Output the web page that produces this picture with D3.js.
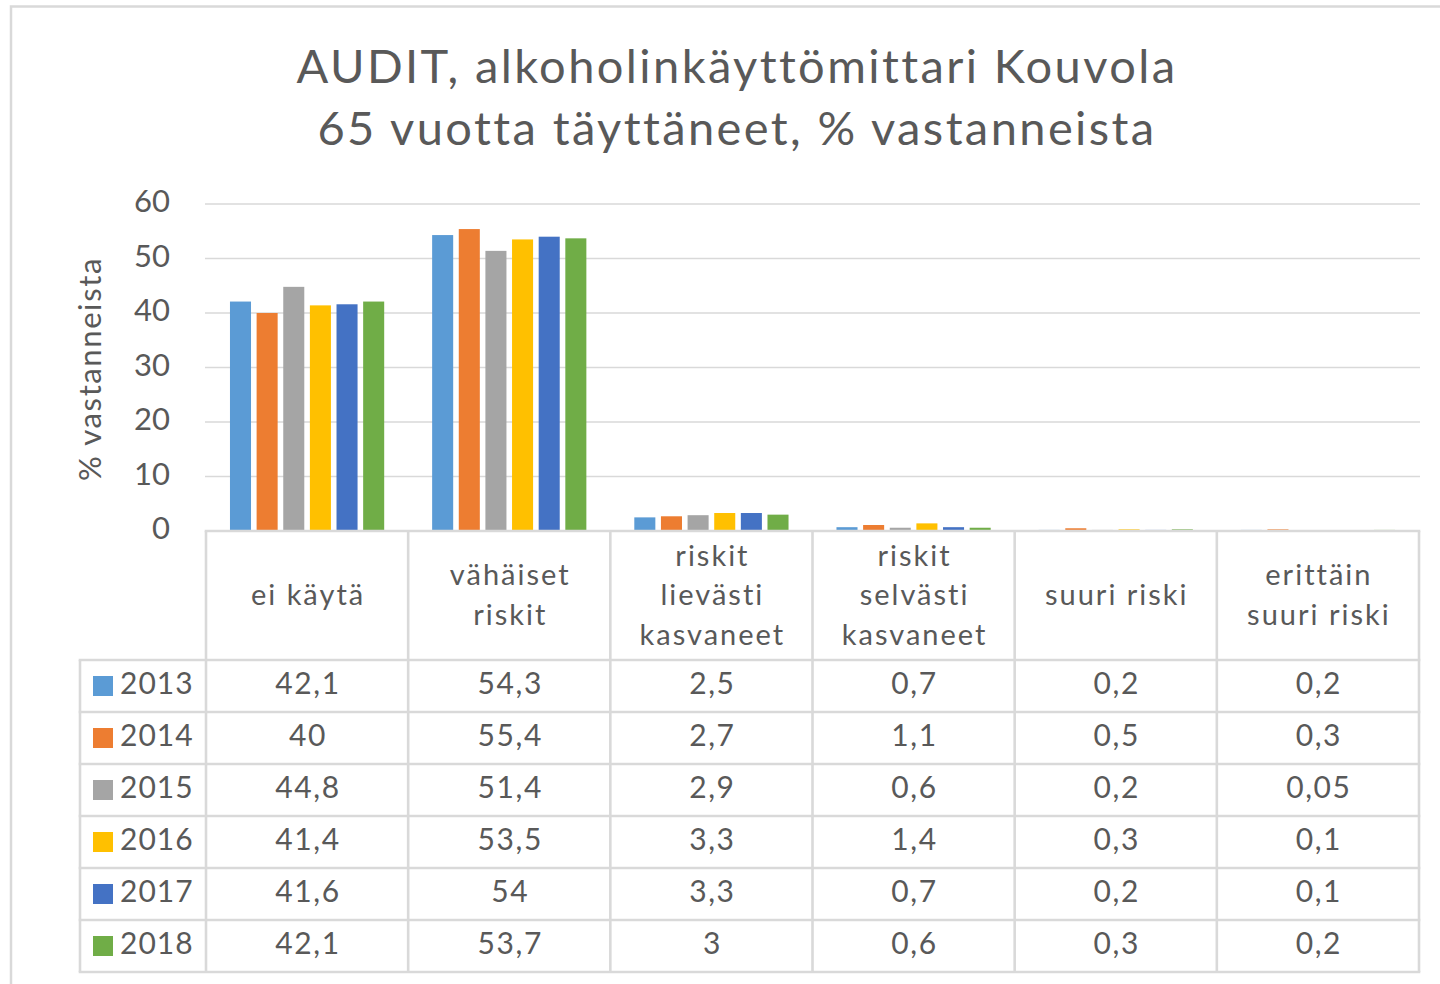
<!DOCTYPE html>
<html>
<head>
<meta charset="utf-8">
<script src="https://cdn.jsdelivr.net/npm/d3@7"></script>
<style>
  html, body { margin: 0; padding: 0; background: #fff; }
  svg { display: block; }
  text { font-family: Lato, "Open Sans", sans-serif; fill: #595959; }
</style>
</head>
<body>
<svg id="chart" width="1440" height="984"></svg>
<script>
const titleLines = ["AUDIT, alkoholinkäyttömittari Kouvola", "65 vuotta täyttäneet, % vastanneista"];
const yAxisTitle = "% vastanneista";
const categories = ["ei käytä", "vähäiset\nriskit", "riskit\nlievästi\nkasvaneet", "riskit\nselvästi\nkasvaneet", "suuri riski", "erittäin\nsuuri riski"];
const years = ["2013", "2014", "2015", "2016", "2017", "2018"];
const colors = ["#5b9bd5", "#ed7d31", "#a5a5a5", "#ffc000", "#4472c4", "#70ad47"];
const v2013 = [42.1, 54.3, 2.5, 0.7, 0.2, 0.2];
const v2014 = [40, 55.4, 2.7, 1.1, 0.5, 0.3];
const v2015 = [44.8, 51.4, 2.9, 0.6, 0.2, 0.05];
const v2016 = [41.4, 53.5, 3.3, 1.4, 0.3, 0.1];
const v2017 = [41.6, 54, 3.3, 0.7, 0.2, 0.1];
const v2018 = [42.1, 53.7, 3, 0.6, 0.3, 0.2];
const yTicks = [0, 10, 20, 30, 40, 50, 60];

const series = [v2013, v2014, v2015, v2016, v2017, v2018];
const svg = d3.select("#chart");
const gridColor = "#d9d9d9";

// outer chart border (clipped on right/bottom like the reference)
svg.append("rect").attr("x", 11).attr("y", 6.5).attr("width", 1500).attr("height", 1100)
  .attr("fill", "none").attr("stroke", gridColor).attr("stroke-width", 2.5);

// title
svg.append("g").selectAll("text").data(titleLines).join("text")
  .attr("x", 737).attr("y", (d, i) => 83 + i * 62)
  .attr("text-anchor", "middle").attr("font-size", 47)
  .attr("letter-spacing", 2.4).text(d => d);

const x0 = d3.scaleBand().domain(categories).range([206, 1419]).paddingInner(0).paddingOuter(0);
const x1 = d3.scaleBand().domain(years).range([0, x0.bandwidth()]).paddingInner(0.21).paddingOuter(0.9);
const y = d3.scaleLinear().domain([0, 60]).range([531, 204]);

// gridlines
svg.append("g").selectAll("line").data(yTicks.filter(t => t > 0)).join("line")
  .attr("x1", 205).attr("x2", 1420).attr("y1", d => y(d)).attr("y2", d => y(d))
  .attr("stroke", gridColor).attr("stroke-width", 1.6);

// y axis labels
const yAxis = d3.axisLeft(y).tickValues(yTicks).tickSize(0).tickPadding(0);
const ya = svg.append("g").attr("transform", "translate(170,0)").call(yAxis);
ya.select(".domain").remove();
ya.selectAll("text").attr("font-size", 31).attr("dy", "0.25em")
  .style("font-family", "Lato, sans-serif").attr("fill", "#595959");

// y axis title
svg.append("text").attr("transform", "translate(101,369) rotate(-90)")
  .attr("text-anchor", "middle").attr("font-size", 31).attr("letter-spacing", 1.6).text(yAxisTitle);

// bars
const barData = [];
series.forEach((vals, si) => vals.forEach((v, ci) => barData.push({ year: years[si], si, cat: categories[ci], v })));
svg.append("g").selectAll("rect").data(barData).join("rect")
  .attr("x", d => x0(d.cat) + x1(d.year))
  .attr("width", x1.bandwidth())
  .attr("y", d => y(d.v))
  .attr("height", d => y(0) - y(d.v))
  .attr("fill", d => colors[d.si]);

// data table
const tableTop = y(0);
const headerBottom = 660;
const rowH = 52;
const tableBottom = headerBottom + rowH * years.length;
const legendLeft = 80;
const tg = svg.append("g");
const line = (x1_, y1_, x2_, y2_) => tg.append("line").attr("x1", x1_).attr("y1", y1_).attr("x2", x2_).attr("y2", y2_)
  .attr("stroke", gridColor).attr("stroke-width", 2.6);

// horizontal lines
line(x0.range()[0] - 1.3, tableTop, x0.range()[1] + 1.3, tableTop);
for (let r = 0; r <= years.length; r++) {
  line(legendLeft - 1.3, headerBottom + r * rowH, x0.range()[1] + 1.3, headerBottom + r * rowH);
}
// vertical lines
line(legendLeft, headerBottom, legendLeft, tableBottom);
categories.forEach(c => line(x0(c), tableTop, x0(c), tableBottom));
line(x0.range()[1], tableTop, x0.range()[1], tableBottom);

// header labels
const headerMid = 595;
const lh = 39.5;
categories.forEach(c => {
  const lines = c.split("\n");
  const t = tg.append("text").attr("text-anchor", "middle").attr("font-size", 29).attr("letter-spacing", 2);
  lines.forEach((ln, i) => {
    t.append("tspan").attr("x", x0(c) + x0.bandwidth() / 2 + 1)
      .attr("y", headerMid + (i - (lines.length - 1) / 2) * lh + 10).text(ln);
  });
});

// rows
const fmt = v => String(v).replace(".", ",");
years.forEach((yr, si) => {
  const cy = headerBottom + si * rowH + rowH / 2;
  tg.append("rect").attr("x", 93).attr("y", cy - 10).attr("width", 20).attr("height", 20).attr("fill", colors[si]);
  tg.append("text").attr("x", 120).attr("y", cy + 8).attr("font-size", 30).attr("letter-spacing", 1).text(yr);
  series[si].forEach((v, ci) => {
    tg.append("text").attr("x", x0(categories[ci]) + x0.bandwidth() / 2 + 1).attr("y", cy + 8)
      .attr("text-anchor", "middle").attr("font-size", 30).attr("letter-spacing", 1.6).text(fmt(v));
  });
});
</script>
</body>
</html>
